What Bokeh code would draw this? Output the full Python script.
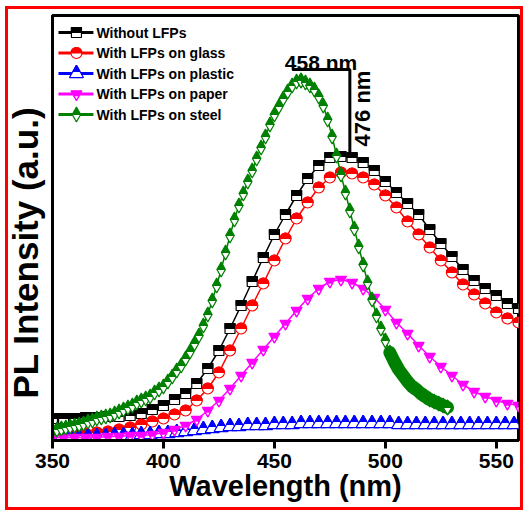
import numpy as np
from bokeh.plotting import figure
from bokeh.models import Range1d, Label, FixedTicker, ColumnDataSource, Title
from bokeh.transform import dodge
from bokeh.core.properties import value
from bokeh.embed import file_html
from bokeh.resources import INLINE

# ---------------- data (PL intensity, a.u.) ----------------
wl_5 = list(range(350, 561, 5))
without_lfps = [22, 22, 22, 23, 23, 24, 24, 25, 27, 31, 35, 41, 47, 57, 72, 90, 112, 135, 159, 183,
                206, 226, 245, 262, 275, 283, 284, 283, 278, 270, 259, 248, 237, 226, 211, 197, 184,
                171, 160, 152, 145, 137, 132]
lfps_glass = [5, 5, 6, 7, 8, 9, 11, 13, 16, 19, 22, 26, 30, 40, 52, 68, 90, 112, 135, 157, 180, 202,
              222, 238, 253, 263, 268, 267, 263, 256, 245, 233, 219, 206, 193, 180, 168, 156, 146,
              137, 128, 122, 118]
lfps_paper = [3, 3, 3, 3, 3, 4, 4, 5, 5, 6, 8, 11, 15, 21, 30, 40, 52, 65, 78, 91, 104, 117, 130,
              142, 152, 159, 161, 158, 152, 143, 131, 118, 107, 95, 84, 74, 65, 56, 49, 44, 40, 37, 35]
wl_4 = list(range(350, 559, 4))
lfps_plastic = [3, 3, 3, 3, 4, 4, 4, 5, 5, 5, 6, 6, 7, 7, 8, 9, 10, 11, 12, 13, 14, 14, 15, 15, 15,
                16, 16, 16, 17, 17, 17, 17, 17, 17, 17, 17, 17, 17, 17, 16, 16, 16, 16, 16, 16, 16,
                16, 16, 16, 16, 16, 16, 16]
wl_2 = list(range(350, 529, 2))
lfps_steel = [10, 11, 12, 13, 14, 15, 16, 17, 19, 20,
              22, 23, 24, 25, 27, 29, 31, 33, 35, 38,
              40, 42, 44, 48, 51, 54, 59, 64, 70, 75,
              82, 89, 97, 105, 115, 126, 140, 155, 171, 188,
              205, 221, 235, 247, 259, 270, 282, 293, 304, 316,
              326, 334, 342, 349, 355, 359, 360, 358, 355, 351,
              344, 335, 321, 304, 285, 266, 248, 230, 212, 194,
              176, 158, 141, 125, 112, 100, 88, 79, 71, 65,
              59, 54, 51, 47, 44, 41, 39, 37, 35, 33]
steel_dense_from = 502

labels = ["Without LFPs", "With LFPs on glass", "With LFPs on plastic",
          "With LFPs on paper", "With LFPs on steel"]
colors = ["#000000", "#ff0000", "#0000ff", "#ff00ff", "#008000"]
x_ticks = [350, 400, 450, 500, 550]
x_title = "Wavelength (nm)"
y_title = "PL Intensity (a.u.)"

# peak annotation
bracket_x = [458, 484, 484]
bracket_y = [371, 371, 283]
peak_text_1 = ("458 nm", 471, 378)
peak_text_2 = ("476 nm", 489.5, 332)

# ---------------- figure ----------------
X_START, X_END = 350, 560
Y_START, Y_END = 0, 425
FRAME_W, FRAME_H = 467, 425
FONT = "Liberation Sans"

RED = "linear-gradient(#ff0000, #ff0000)"
red_frame_css = ", ".join([
    RED + " 5px 6px / 3px 504px no-repeat",
    RED + " 520px 6px / 3px 504px no-repeat",
    RED + " 5px 6px / 518px 3px no-repeat",
    RED + " 5px 507px / 518px 3px no-repeat",
    "#ffffff",
])

p = figure(width=526, height=512, output_backend="svg", toolbar_location=None,
           x_range=Range1d(X_START, X_END), y_range=Range1d(Y_START, Y_END),
           min_border_left=51, min_border_right=8, min_border_top=15, min_border_bottom=72,
           background_fill_color="white", border_fill_color="white", border_fill_alpha=0.0)
p.styles = {"background": red_frame_css}
p.grid.visible = False
p.outline_line_color = "black"
p.outline_line_width = 3

xa = p.xaxis[0]
xa.ticker = FixedTicker(ticks=x_ticks)
xa.minor_tick_line_color = None
xa.major_tick_out = 8
xa.major_tick_in = 0
xa.major_tick_line_width = 3
xa.axis_line_width = 3
xa.major_label_text_font = FONT
xa.major_label_text_font_style = "bold"
xa.major_label_text_font_size = "21px"
xa.major_label_text_color = "black"
xa.major_label_standoff = 5
xa.axis_label = x_title
xa.axis_label_text_font = FONT
xa.axis_label_text_font_style = "bold"
xa.axis_label_text_font_size = "29px"
xa.axis_label_text_color = "black"
xa.axis_label_standoff = -1

ya = p.yaxis[0]
ya.ticker = FixedTicker(ticks=[])
ya.minor_tick_line_color = None
ya.major_tick_line_color = None
ya.major_tick_out = 0
ya.major_tick_in = 0
ya.major_label_standoff = 0
ya.axis_line_width = 3

p.add_layout(Title(text=y_title, align="left", offset=42, standoff=11, vertical_align="top",
                   text_font=FONT, text_font_style="bold", text_font_size="35px",
                   text_color="black"), "left")

KY = (Y_END - Y_START) / FRAME_H  # data units per screen pixel (y)


def fx(dx):
    return X_START + dx * (X_END - X_START) / FRAME_W


def fy(dy):
    return Y_END - dy * (Y_END - Y_START) / FRAME_H


LW = 1.2


def m_square(src, c, s=10):
    p.scatter("x", "y", source=src, marker="square", size=s, fill_color="white", line_color=c, line_width=LW)
    p.rect("x", dodge("y", KY * s / 4), source=src, width=s, height=s / 2, width_units="screen",
           height_units="screen", fill_color=c, line_color=c, line_width=LW)


def m_circle(src, c, s=11):
    p.scatter("x", "y", source=src, marker="circle", size=s, fill_color="white", line_color=c, line_width=LW)
    p.wedge("x", "y", source=src, radius=s / 2, radius_units="screen", start_angle=0, end_angle=np.pi,
            fill_color=c, line_color=c, line_width=LW)


def m_triangle(src, c, s=14):
    p.scatter("x", "y", source=src, marker="triangle", size=s, fill_color="white", line_color=c, line_width=LW)
    p.scatter("x", dodge("y", KY * s * 0.866 / 3), source=src, marker="triangle", size=s / 2,
              fill_color=c, line_color=c, line_width=LW)


def m_invtriangle(src, c, s=11):
    p.scatter("x", "y", source=src, marker="inverted_triangle", size=s, fill_color=c, line_color=c, line_width=LW)
    p.scatter("x", dodge("y", -KY * s * 0.866 / 3), source=src, marker="inverted_triangle", size=s / 2,
              fill_color="white", line_color=c, line_width=LW)


def m_diamond(src, c, s=8.5, fill_first=False):
    off = KY * s * 0.866 / 3

    def top():
        p.scatter("x", dodge("y", off), source=src, marker="triangle", size=s,
                  fill_color=c, line_color=c, line_width=LW)

    def bottom():
        p.scatter("x", dodge("y", -off), source=src, marker="inverted_triangle", size=s,
                  fill_color="white", line_color=c, line_width=LW)

    if fill_first:
        top(); bottom()
    else:
        bottom(); top()


markers = [m_square, m_circle, m_triangle, m_invtriangle, m_diamond]
series = [(wl_5, without_lfps), (wl_5, lfps_glass), (wl_4, lfps_plastic), (wl_5, lfps_paper), (wl_2, lfps_steel)]

for (xs, ys), c, mk in zip(series, colors, markers):
    src = ColumnDataSource(dict(x=xs, y=ys))
    p.line("x", "y", source=src, line_color=c, line_width=1.5)
    if mk is m_diamond:
        ip = int(np.argmax(ys))
        mk(ColumnDataSource(dict(x=xs[:ip + 1], y=ys[:ip + 1])), c, fill_first=True)
        mk(ColumnDataSource(dict(x=xs[ip:], y=ys[ip:])), c, fill_first=False)
        tx = [x for x in xs if x >= steel_dense_from]
        ty = [y for x, y in zip(xs, ys) if x >= steel_dense_from]
        p.line(tx, ty, line_color=c, line_width=13, line_cap="round")
        mk(ColumnDataSource(dict(x=tx[-1:], y=ty[-1:])), c)
    else:
        mk(src, c)

# peak bracket + labels
p.line(bracket_x, bracket_y, line_color="black", line_width=3)
p.add_layout(Label(x=peak_text_1[1], y=peak_text_1[2], text=peak_text_1[0], text_font=FONT,
                   text_font_style="bold", text_font_size="21px", text_align="center",
                   text_baseline="alphabetic", text_color="black"))
p.add_layout(Label(x=peak_text_2[1], y=peak_text_2[2], text=peak_text_2[0], text_font=FONT,
                   text_font_style="bold", text_font_size="22px", text_align="center",
                   text_baseline="middle", angle=np.pi / 2, text_color="black"))

# legend (drawn inside the frame, top-left)
for i, (lab, c, mk) in enumerate(zip(labels, colors, markers)):
    yy = fy(17 + 20.5 * i)
    p.segment(x0=[fx(6)], y0=[yy], x1=[fx(41)], y1=[yy], line_color=c, line_width=3)
    mk(ColumnDataSource(dict(x=[fx(24)], y=[yy])), c)
    p.text(x=[fx(44)], y=[yy], text=[lab], text_font=value(FONT), text_font_style="bold",
           text_font_size="14px", text_baseline="middle", text_color="black")

open("out.html", "w").write(file_html(p, INLINE))
